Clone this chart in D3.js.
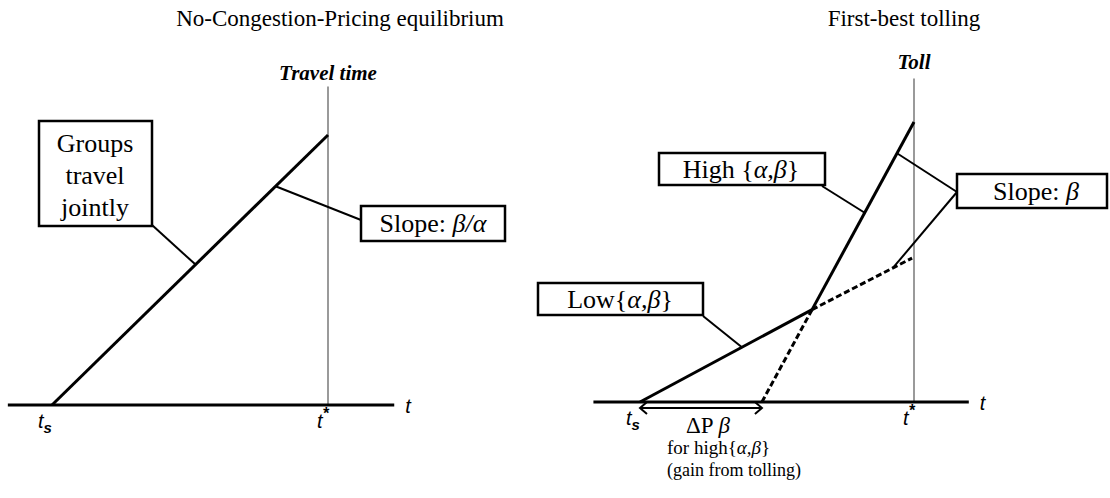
<!DOCTYPE html>
<html><head><meta charset="utf-8">
<script src="https://cdn.jsdelivr.net/npm/d3@7"></script>
<style>
html,body{margin:0;padding:0;background:#fff;}
svg{display:block;}
text{font-family:"Liberation Serif","Times New Roman",serif;fill:#000;}
text.sans{font-family:"Liberation Sans",Arial,sans-serif;}
</style></head>
<body>
<svg id="chart" width="1110" height="498"></svg>
<script>
// ---------- data ----------
const panelTitles = ["No-Congestion-Pricing equilibrium", "First-best tolling"];
const yAxisTitles = ["Travel time", "Toll"];
const tickLabels = ["t", "t"];           // t_s and t* base letters
const tickSubs = ["s", "*"];
const axisName = "t";
// left panel: travel time vs departure time (t_s = 0, t* = 10)
const leftAxisExtent = [-1.6, 12.4];
const leftVerticalTop = 11.8;
const leftSeries = [{t: 0, v: 0}, {t: 10, v: 10}];
// right panel: toll vs departure time
const rightAxisExtent = [-1.7, 12.0];
const rightVerticalTop = 11.55;
const highSeries = [{t: 4.45, v: 0}, {t: 6.28, v: 3.3}, {t: 10, v: 10}];   // first segment dashed
const lowSeries  = [{t: 0, v: 0}, {t: 6.28, v: 3.3}, {t: 9.93, v: 5.14}];    // last segment dashed
const gainSpan = [0, 4.45];
// annotation anchors (departure time on a series)
const groupsAnchorT = 5.2;
const slopeLeftAnchorT = 8.1;
const highAnchorT = 8.2;
const lowAnchorT = 3.72;
const slopeRightHighT = 9.38;
const slopeRightLowT = 9.23;

// ---------- scales ----------
const lx = d3.scaleLinear().domain([0, 10]).range([52, 328]);
const ly = d3.scaleLinear().domain([0, 10]).range([405, 135]);
const rx = d3.scaleLinear().domain([0, 10]).range([640, 914]);
const ry = d3.scaleLinear().domain([0, 10]).range([402, 122]);

const svg = d3.select("#chart");
const interp = (series, t) => {
  for (let i = 0; i < series.length - 1; i++) {
    const a = series[i], b = series[i + 1];
    if (t >= a.t && t <= b.t) return a.v + (b.v - a.v) * (t - a.t) / (b.t - a.t);
  }
  return series[series.length - 1].v;
};
const line = (X, Y) => d3.line().x(d => X(d.t)).y(d => Y(d.v));

// ---------- titles ----------
svg.append("text").attr("x", 340).attr("y", 26).attr("text-anchor", "middle")
  .style("font-size", "23px").text(panelTitles[0]);
svg.append("text").attr("x", 904).attr("y", 26).attr("text-anchor", "middle")
  .style("font-size", "23px").text(panelTitles[1]);

// ---------- panel drawing helper ----------
function axes(X, Y, ext, vTop, yTitle, titleY, axisLabelDy) {
  svg.append("line").attr("x1", X(10)).attr("x2", X(10))
    .attr("y1", Y(vTop)).attr("y2", Y(0))
    .attr("stroke", "#9a9a9a").attr("stroke-width", 2);
  svg.append("text").attr("x", X(10)).attr("y", titleY).attr("text-anchor", "middle")
    .style("font-size", "21px").style("font-style", "italic").style("font-weight", "bold")
    .text(yTitle);
  svg.append("line").attr("x1", X(ext[0])).attr("x2", X(ext[1]))
    .attr("y1", Y(0)).attr("y2", Y(0))
    .attr("stroke", "#000").attr("stroke-width", 3);
  svg.append("text").attr("class", "sans").attr("x", X(ext[1]) + 11).attr("y", Y(0) + axisLabelDy)
    .style("font-size", "20px").style("font-style", "italic").text(axisName);
  const ts = svg.append("text").attr("class", "sans").attr("x", X(0) - 14).attr("y", Y(0) + 23)
    .style("font-size", "20px").style("font-style", "italic");
  ts.append("tspan").text(tickLabels[0]);
  ts.append("tspan").attr("dy", 5).style("font-size", "15px").style("font-weight", "bold").text(tickSubs[0]);
  const tst = svg.append("text").attr("class", "sans").attr("x", X(10) - 11).attr("y", Y(0) + 23)
    .style("font-size", "20px").style("font-style", "italic");
  tst.append("tspan").text(tickLabels[1]);
  tst.append("tspan").attr("dy", -9).style("font-size", "16px").style("font-weight", "bold").text(tickSubs[1]);
}

axes(lx, ly, leftAxisExtent, leftVerticalTop, yAxisTitles[0], 80, 8);
axes(rx, ry, rightAxisExtent, rightVerticalTop, yAxisTitles[1], 69, 8);

// ---------- left series ----------
svg.append("path").datum(leftSeries).attr("d", line(lx, ly))
  .attr("fill", "none").attr("stroke", "#000").attr("stroke-width", 3);

// ---------- right series ----------
svg.append("path").datum(highSeries.slice(0, 2)).attr("d", line(rx, ry))
  .attr("fill", "none").attr("stroke", "#000").attr("stroke-width", 3).attr("stroke-dasharray", "6,3");
svg.append("path").datum(highSeries.slice(1)).attr("d", line(rx, ry))
  .attr("fill", "none").attr("stroke", "#000").attr("stroke-width", 3);
svg.append("path").datum(lowSeries.slice(0, 2)).attr("d", line(rx, ry))
  .attr("fill", "none").attr("stroke", "#000").attr("stroke-width", 3);
svg.append("path").datum(lowSeries.slice(1)).attr("d", line(rx, ry))
  .attr("fill", "none").attr("stroke", "#000").attr("stroke-width", 3).attr("stroke-dasharray", "6,3");

// gain double arrow
const ay = ry(0) + 6;
const ax0 = rx(gainSpan[0]), ax1 = rx(gainSpan[1]);
svg.append("line").attr("x1", ax0).attr("x2", ax1).attr("y1", ay).attr("y2", ay)
  .attr("stroke", "#000").attr("stroke-width", 2);
svg.append("path").attr("d", `M${ax0 + 7},${ay - 6} L${ax0},${ay} L${ax0 + 7},${ay + 6}`)
  .attr("fill", "none").attr("stroke", "#000").attr("stroke-width", 2);
svg.append("path").attr("d", `M${ax1 - 7},${ay - 6} L${ax1},${ay} L${ax1 - 7},${ay + 6}`)
  .attr("fill", "none").attr("stroke", "#000").attr("stroke-width", 2);

// ---------- leaders ----------
function leader(x0, y0, X, Y, series, t) {
  svg.append("line").attr("x1", x0).attr("y1", y0)
    .attr("x2", X(t)).attr("y2", Y(interp(series, t)))
    .attr("stroke", "#000").attr("stroke-width", 2);
}
leader(152, 225, lx, ly, leftSeries, groupsAnchorT);
leader(361, 220, lx, ly, leftSeries, slopeLeftAnchorT);
leader(822, 186, rx, ry, highSeries, highAnchorT);
leader(703, 316, rx, ry, lowSeries, lowAnchorT);
leader(957, 192, rx, ry, highSeries, slopeRightHighT);
leader(957, 192, rx, ry, lowSeries, slopeRightLowT);

// ---------- boxes ----------
function box(x, y, w, h) {
  svg.append("rect").attr("x", x).attr("y", y).attr("width", w).attr("height", h)
    .attr("fill", "#fff").attr("stroke", "#000").attr("stroke-width", 2.5);
}
box(39, 121, 113, 105);
["Groups", "travel", "jointly"].forEach((s, i) => {
  svg.append("text").attr("x", 95).attr("y", 152 + i * 32).attr("text-anchor", "middle")
    .style("font-size", "26px").text(s);
});

box(361, 206, 144, 35);
{
  const t = svg.append("text").attr("x", 433).attr("y", 232).attr("text-anchor", "middle").style("font-size", "26px");
  t.append("tspan").text("Slope: ");
  t.append("tspan").style("font-style", "italic").text("β/α");
}
box(659, 153, 166, 32);
{
  const t = svg.append("text").attr("x", 741).attr("y", 178).attr("text-anchor", "middle").style("font-size", "26px");
  t.append("tspan").text("High {");
  t.append("tspan").style("font-style", "italic").text("α,β");
  t.append("tspan").text("}");
}
box(538, 283, 165, 32);
{
  const t = svg.append("text").attr("x", 620).attr("y", 308).attr("text-anchor", "middle").style("font-size", "26px");
  t.append("tspan").text("Low{");
  t.append("tspan").style("font-style", "italic").text("α,β");
  t.append("tspan").text("}");
}
box(957, 174, 150, 34);
{
  const t = svg.append("text").attr("x", 1036).attr("y", 200).attr("text-anchor", "middle").style("font-size", "26px");
  t.append("tspan").text("Slope: ");
  t.append("tspan").style("font-style", "italic").text("β");
}

// ---------- gain annotation ----------
{
  const t = svg.append("text").attr("x", 708).attr("y", 433).attr("text-anchor", "middle").style("font-size", "23px");
  t.append("tspan").text("ΔP ");
  t.append("tspan").style("font-style", "italic").text("β");
  const t2 = svg.append("text").attr("x", 667).attr("y", 454).style("font-size", "19px");
  t2.append("tspan").text("for high{");
  t2.append("tspan").style("font-style", "italic").text("α,β");
  t2.append("tspan").text("}");
  svg.append("text").attr("x", 667).attr("y", 476).style("font-size", "18px").text("(gain from tolling)");
}
</script>
</body></html>
